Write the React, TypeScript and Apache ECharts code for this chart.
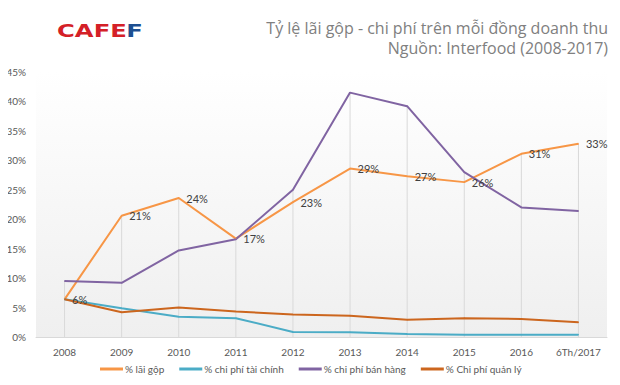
import React, { useEffect, useRef } from "react";
import * as echarts from "echarts";

const categories = ["2008", "2009", "2010", "2011", "2012", "2013", "2014", "2015", "2016", "6Th/2017"];
const laiGop = [6.4, 20.6, 23.6, 16.7, 22.9, 28.6, 27.3, 26.3, 31.1, 32.8];
const chiPhiTaiChinh = [6.4, 4.9, 3.45, 3.2, 0.85, 0.8, 0.5, 0.4, 0.4, 0.4];
const chiPhiBanHang = [9.5, 9.2, 14.7, 16.6, 25.0, 41.5, 39.2, 28.0, 22.0, 21.4];
const chiPhiQuanLy = [6.4, 4.2, 5.0, 4.35, 3.8, 3.6, 2.95, 3.2, 3.05, 2.5];
const seriesNames = ["% lãi gộp", "% chi phí tài chính", "% chi phí bán hàng", "% Chi phí quản lý"];
const titleLines = ["Tỷ lệ lãi gộp - chi phí trên mỗi đồng doanh thu", "Nguồn: Interfood (2008-2017)"];

const FONT = "Lato";

export default function App() {
  const ref = useRef<HTMLDivElement>(null);
  useEffect(() => {
    if (!ref.current) return;
    const chart = echarts.init(ref.current, null, { renderer: "svg" });
    const dropValues = categories.map((_, i) =>
      Math.max(laiGop[i], chiPhiTaiChinh[i], chiPhiBanHang[i], chiPhiQuanLy[i])
    );
    const lineSeries = (name: string, data: number[], color: string, showLabel: boolean) => ({
      type: "line",
      name,
      data,
      symbol: "circle",
      symbolSize: 1,
      showSymbol: true,
      itemStyle: { color },
      lineStyle: { color, width: 2 },
      z: 3,
      label: {
        show: showLabel,
        position: "right",
        distance: 7,
        color: "#404040",
        fontSize: 11,
        fontFamily: FONT,
        formatter: (p: any) => Math.round(p.value) + "%",
      },
    });
    chart.setOption({
      animation: false,
      backgroundColor: "#ffffff",
      textStyle: { fontFamily: FONT },
      graphic: [
        {
          type: "group",
          x: 57,
          y: 31,
          scaleX: 1.43,
          children: [
            {
              type: "text",
              x: 0,
              y: 0,
              style: {
                text: "CAFE",
                fill: "#d42027",
                font: "bold 17px 'DejaVu Sans'",
                verticalAlign: "middle",
              },
            },
            {
              type: "text",
              x: 48.5,
              y: 0,
              style: {
                text: "F",
                fill: "#1d4f91",
                font: "bold 17px 'DejaVu Sans'",
                verticalAlign: "middle",
              },
            },
          ],
        },
        {
          type: "text",
          x: 608,
          y: 28,
          style: {
            text: titleLines[0],
            fill: "#808080",
            font: "16px 'Open Sans'",
            align: "right",
            verticalAlign: "middle",
          },
        },
        {
          type: "text",
          x: 608,
          y: 48,
          style: {
            text: titleLines[1],
            fill: "#808080",
            font: "16px 'Open Sans'",
            align: "right",
            verticalAlign: "middle",
          },
        },
      ],
      legend: {
        data: seriesNames,
        bottom: 6,
        left: 95,
        icon: "rect",
        itemWidth: 23,
        itemHeight: 3,
        itemGap: 15,
        textStyle: { fontSize: 10, color: "#595959", fontFamily: FONT, padding: [0, 0, 0, -3] },
      },
      grid: {
        left: 36,
        right: 13,
        top: 72,
        bottom: 48,
        show: true,
        borderWidth: 0,
        backgroundColor: new echarts.graphic.LinearGradient(0, 0, 0, 1, [
          { offset: 0, color: "#ffffff" },
          { offset: 1, color: "#efefef" },
        ]),
      },
      xAxis: {
        type: "category",
        data: categories,
        boundaryGap: true,
        axisLine: { show: true, lineStyle: { color: "#d9d9d9", width: 1 } },
        axisTick: { show: false },
        splitLine: { show: false },
        axisLabel: { interval: 0, fontSize: 10, color: "#595959", fontFamily: FONT, margin: 10 },
      },
      yAxis: {
        type: "value",
        min: 0,
        max: 45,
        interval: 5,
        axisLine: { show: false },
        axisTick: { show: false },
        splitLine: { show: false },
        axisLabel: { fontSize: 10, color: "#595959", fontFamily: FONT, margin: 10, formatter: "{value}%" },
      },
      series: [
        {
          type: "bar",
          name: "drop",
          data: dropValues,
          barWidth: 1,
          itemStyle: { color: "#d9d9d9" },
          silent: true,
          z: 1,
        },
        lineSeries(seriesNames[0], laiGop, "#f79646", true),
        lineSeries(seriesNames[1], chiPhiTaiChinh, "#4bacc6", false),
        lineSeries(seriesNames[2], chiPhiBanHang, "#8064a2", false),
        lineSeries(seriesNames[3], chiPhiQuanLy, "#cc661e", false),
      ],
    });
    return () => chart.dispose();
  }, []);
  return <div ref={ref} style={{ width: 620, height: 385, margin: -8 }} />;
}
